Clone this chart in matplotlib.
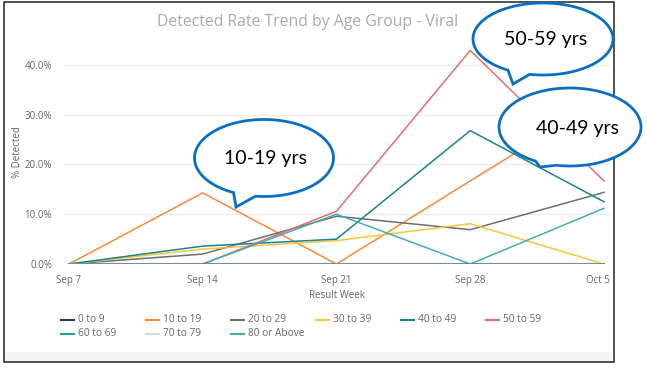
import numpy as np
import matplotlib
matplotlib.use("Agg")
import matplotlib.pyplot as plt
import matplotlib.transforms as mtransforms
from matplotlib.patches import Polygon, Rectangle
from matplotlib.lines import Line2D

plt.rcParams["font.family"] = ["Open Sans", "DejaVu Sans"]

# data (percent detected per result week)
weeks = ["Sep 7", "Sep 14", "Sep 21", "Sep 28", "Oct 5"]
groups = ["0 to 9", "10 to 19", "20 to 29", "30 to 39", "40 to 49",
          "50 to 59", "60 to 69", "70 to 79", "80 or Above"]
age_0_9 = [0, 0, 0, 0, 0]
age_10_19 = [0, 14.3, 0, 16.7, 33.3]
age_20_29 = [0, 2.0, 9.6, 6.9, 14.4]
age_30_39 = [0, 3.0, 4.7, 8.1, 0]
age_40_49 = [0, 3.6, 5.0, 26.8, 12.5]
age_50_59 = [np.nan, 0, 10.6, 42.9, 16.7]
age_60_69 = [0, 0, 0, 0, 0]
age_70_79 = [0, 0, 0, 0, 0]
age_80_up = [np.nan, 0, 10.0, 0, 11.2]
series = [age_0_9, age_10_19, age_20_29, age_30_39, age_40_49,
          age_50_59, age_60_69, age_70_79, age_80_up]
colors = ["#1c3d52", "#f98a3c", "#6b6e70", "#fcc53c", "#15858a",
          "#e36d6d", "#1aa39e", "#d8d8d8", "#48abb3"]

W, H = 647, 374
fig = plt.figure(figsize=(W / 100, H / 100), dpi=100)

# background frame (screenshot border)
bg = fig.add_axes([0, 0, 1, 1], zorder=0)
bg.set_xlim(0, W)
bg.set_ylim(H, 0)
bg.axis("off")
bg.add_patch(Rectangle((5, 352), 607, 9, facecolor="#f4f5f7", edgecolor="none"))
bg.add_patch(Rectangle((4, 2), 610, 360, facecolor="none", edgecolor="#333333", lw=1.2))

ax = fig.add_axes([64 / W, 1 - 40 / H - 0.599, (610 - 64) / W, 0.599], zorder=1)
ax.patch.set_visible(False)
x = np.arange(len(weeks))
for name, vals, c in zip(groups, series, colors):
    ax.plot(x, vals, color=c, lw=1.1, label=name)
# the stacked zero lines read as a blue-grey baseline in the original
ax.plot(x, age_0_9, color="#5f7d90", lw=1.5, alpha=0.75, zorder=3)

ax.set_xlim(-5 / 133.75, 4 + 6 / 133.75)
ax.set_ylim(0, 45)
ax.set_yticks([0, 10, 20, 30, 40])
ax.set_yticklabels([f"{v:.1f}%" for v in [0, 10, 20, 30, 40]])
ax.set_xticks(x)
ax.set_xticklabels(weeks)
ax.tick_params(length=0, labelsize=7, labelcolor="#666666")
ax.tick_params(axis="y", pad=8.5)
ax.tick_params(axis="x", pad=8)
# last tick label is pulled in so it stays inside the frame
last = ax.get_xticklabels()[-1]
last.set_horizontalalignment("right")
last.set_transform(last.get_transform() + mtransforms.ScaledTranslation(6 / 100, 0, fig.dpi_scale_trans))
ax.grid(axis="y", color="#ececec", lw=0.9)
ax.set_axisbelow(True)
for s in ax.spines.values():
    s.set_visible(False)
ax.set_xlabel("Result Week", fontsize=7, color="#666666", labelpad=3)
ax.set_ylabel("% Detected", fontsize=7, color="#666666")
ax.yaxis.set_label_coords(-0.076, 0.5)

# overlay for title, legend and callouts
fg = fig.add_axes([0, 0, 1, 1], zorder=5)
fg.set_xlim(0, W)
fg.set_ylim(H, 0)
fg.axis("off")
fg.patch.set_visible(False)

fg.text(308, 22, "Detected Rate Trend by Age Group - Viral", fontsize=11.3,
        color="#aaaaaa", ha="center", va="center")

for i, (name, c) in enumerate(zip(groups, colors)):
    col, row = i % 6, i // 6
    lx = 61 + col * 85
    ly = 320 + row * 14
    fg.add_line(Line2D([lx, lx + 13], [ly, ly], color=c, lw=1.5))
    fg.text(lx + 17, ly, name, fontsize=7.3, color="#666666", va="center", ha="left")


def bubble(cx, cy, w, h, tip, a1, a2, label, tx, ty):
    # ellipse outline with a gap between angles a1..a2 that is closed by the tail tip
    t = np.radians(np.linspace(a2, a1 + 360, 200))
    pts = np.column_stack([cx + w / 2 * np.cos(t), cy + h / 2 * np.sin(t)])
    pts = np.vstack([pts, tip])
    fg.add_patch(Polygon(pts, closed=True, facecolor="white", edgecolor="#0a6fc0",
                         lw=2.0, joinstyle="miter"))
    fg.text(tx, ty, label, fontsize=14, color="black", ha="center", va="center",
            family=["Lato", "DejaVu Sans"])


bubble(264, 158, 139, 77, (236, 207), 97, 116, "10-19 yrs", 265, 158)
bubble(543, 39, 140, 72, (513, 84), 101, 120, "50-59 yrs", 546, 39)
bubble(570, 127, 142, 78, (540, 167), 101, 119, "40-49 yrs", 577, 128)

fig.savefig("out.png", dpi=100)
